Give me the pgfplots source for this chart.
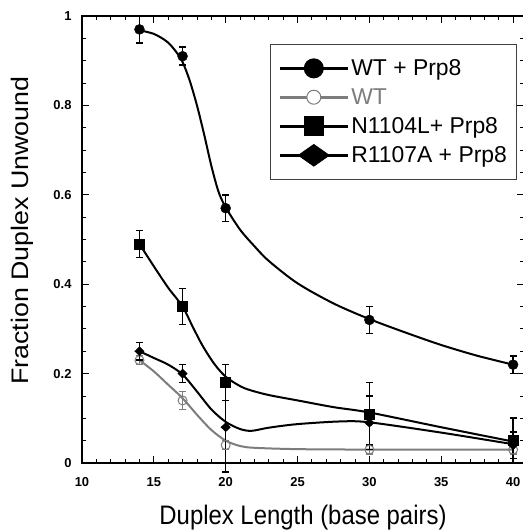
\documentclass[border=0pt]{standalone}
\usepackage{fontspec}
\setmainfont{Liberation Sans}
\usepackage{graphicx}
\usepackage{pgfplots}
\pgfplotsset{compat=1.18}

\definecolor{wtgray}{RGB}{125,125,125}

% measured points with error bars: x, y, error
\pgfplotstableread{
x y e
14 0.97 0.03
17 0.91 0.02
20 0.57 0.03
30 0.32 0.03
40 0.22 0.02
}\wtprp
\pgfplotstableread{
x y e
14 0.23 0.01
17 0.14 0.02
20 0.04 0.01
30 0.03 0.01
40 0.03 0.01
}\wt
\pgfplotstableread{
x y e
14 0.49 0.03
17 0.35 0.04
20 0.18 0.04
30 0.11 0.07
40 0.05 0.05
}\nmut
\pgfplotstableread{
x y e
14 0.25 0.02
17 0.20 0.02
20 0.08 0.10
30 0.09 0.06
40 0.04 0.03
}\rmut

\begin{document}
\begin{tikzpicture}
\useasboundingbox (-82bp,-69bp) rectangle (441bp,463bp);
\begin{axis}[
  at={(0,0)}, anchor=south west,
  scale only axis, width=442bp, height=447bp,
  xmin=10, xmax=40.76, ymin=0, ymax=1,
  clip=false,
  xtick={10,15,20,25,30,35,40},
  ytick={0,0.2,0.4,0.6,0.8,1},
  yticklabels={0,0.2,0.4,0.6,0.8,1},
  minor x tick num=4, minor y tick num=3,
  tick align=inside,
  major tick length=7bp, minor tick length=4bp,
  axis line style={line width=1.1bp},
  every tick/.style={black, line width=0.9bp},
  /pgf/number format/assume math mode=true,
  ticklabel style={font=\fontsize{13}{13}\selectfont\bfseries},
  xticklabel style={yshift=-11bp},
  yticklabel style={xshift=-7bp},
  xlabel={\scalebox{1}[1.12]{Duplex Length (base pairs)}},
  xlabel style={at={(axis description cs:0.5,-0.121)}, anchor=center, font=\fontsize{24}{24}\selectfont},
  ylabel={\scalebox{1.12}[1]{Fraction Duplex Unwound}},
  ylabel style={at={(axis description cs:-0.136,0.52)}, anchor=center, rotate=0, font=\fontsize{24}{24}\selectfont},
  legend image code/.code={\draw[#1, mark repeat=2, mark phase=2] plot coordinates {(0bp,0bp) (34bp,0bp) (68bp,0bp)};},
  legend style={at={(rel axis cs:0.985,0.937)}, anchor=north east, draw=black!75, line width=0.9bp,
    font=\fontsize{23}{23}\selectfont, inner xsep=8bp, inner ysep=13bp, row sep=7.5bp},
  legend cell align=left,
]
% fitted curves
\addplot[forget plot, black, line width=2bp, smooth] coordinates {
(14,0.968) (15,0.96) (15.9,0.943) (16.5,0.922) (17,0.897) (17.5,0.855) (18,0.80) (18.5,0.735)
(19,0.665) (19.5,0.607) (20,0.572) (21,0.522) (22,0.485) (23,0.452) (25,0.402) (27.5,0.357)
(30,0.322) (32.5,0.292) (35,0.264) (37.5,0.24) (40,0.22)};
\addplot[forget plot, wtgray, line width=2bp, smooth] coordinates {
(14,0.23) (15,0.205) (16,0.175) (17,0.145) (18,0.108) (19,0.074) (20,0.05) (21,0.038)
(22,0.034) (25,0.031) (30,0.03) (35,0.03) (40,0.03)};
\addplot[forget plot, black, line width=2bp, smooth] coordinates {
(14,0.49) (15,0.44) (16,0.392) (17,0.35) (17.7,0.305) (18.4,0.262) (19.2,0.222) (20,0.193)
(21,0.172) (21.7,0.163) (23,0.152) (25,0.14) (27.5,0.125) (30,0.113) (35,0.08) (40,0.048)};
\addplot[forget plot, black, line width=2bp, smooth] coordinates {
(14,0.25) (15,0.235) (16,0.22) (17,0.198) (18,0.16) (19,0.12) (20,0.092) (21,0.076)
(21.8,0.072) (23,0.079) (25,0.087) (28,0.093) (30,0.091) (35,0.068) (40,0.042)};
% markers with error bars
\addplot[forget plot, only marks, wtgray, mark=o, mark size=4.5bp, mark options={line width=1bp, fill=white},
  error bars/.cd, y dir=both, y explicit,
  error bar style={line width=1.5bp, wtgray},
  error mark options={rotate=90, mark size=3.5bp, line width=1.5bp, wtgray}]
  table[x=x, y=y, y error=e] {\wt};
\addplot[forget plot, only marks, black, mark=*, mark size=5bp,
  error bars/.cd, y dir=both, y explicit,
  error bar style={line width=1.6bp},
  error mark options={rotate=90, mark size=3.5bp, line width=1.6bp}]
  table[x=x, y=y, y error=e] {\wtprp};
\addplot[forget plot, only marks, black, mark=square*, mark size=5bp,
  error bars/.cd, y dir=both, y explicit,
  error bar style={line width=1.6bp},
  error mark options={rotate=90, mark size=3.5bp, line width=1.6bp}]
  table[x=x, y=y, y error=e] {\nmut};
\addplot[forget plot, only marks, black, mark=diamond*, mark size=4.5bp, mark options={xscale=1.4},
  error bars/.cd, y dir=both, y explicit,
  error bar style={line width=1.6bp},
  error mark options={rotate=90, mark size=3.5bp, line width=1.6bp}]
  table[x=x, y=y, y error=e] {\rmut};
% legend
\addlegendimage{black, line width=3bp, mark=*, mark size=8.5bp}
\addlegendentry{WT + Prp8}
\addlegendimage{wtgray, line width=3bp, mark=*, mark size=7bp, mark options={fill=white, line width=1bp}}
\addlegendentry{\textcolor{wtgray}{WT}}
\addlegendimage{black, line width=3bp, mark=square*, mark size=9.5bp, mark options={line width=0.5bp}}
\addlegendentry{N1104L+ Prp8}
\addlegendimage{black, line width=3bp, mark=diamond*, mark size=11bp, mark options={xscale=1.9, line width=0.5bp}}
\addlegendentry{R1107A + Prp8}
\end{axis}
\end{tikzpicture}
\end{document}
